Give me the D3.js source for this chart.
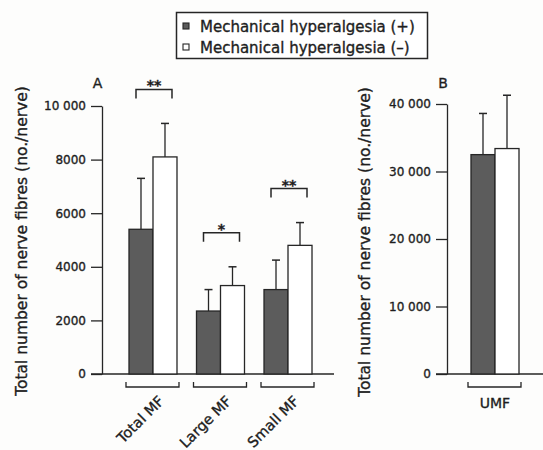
<!DOCTYPE html>
<html>
<head>
<meta charset="utf-8">
<script src="https://cdn.jsdelivr.net/npm/d3@7"></script>
<style>
  body { margin: 0; background: #fdfdfc; }
  svg { display: block; font-family: "DejaVu Sans", sans-serif; }
  svg text { fill: #1e1e1e; stroke: #1e1e1e; stroke-width: 0.35px; }
</style>
</head>
<body>
<svg width="543" height="450"></svg>
<script>
// panel A
var categoriesA = ["Total MF", "Large MF", "Small MF"];
var plusMeanA = [5400, 2350, 3150];
var plusSdA = [1900, 800, 1100];
var minusMeanA = [8100, 3300, 4800];
var minusSdA = [1250, 700, 850];
var sigA = ["**", "*", "**"];
var ticksA = [0, 2000, 4000, 6000, 8000, 10000];

// panel B
var categoriesB = ["UMF"];
var plusMeanB = [32500];
var plusSdB = [6100];
var minusMeanB = [33400];
var minusSdB = [7900];
var ticksB = [0, 10000, 20000, 30000, 40000];

var legendLabels = ["Mechanical hyperalgesia (+)", "Mechanical hyperalgesia (\u2013)"];
var yTitle = "Total number of nerve fibres (no./nerve)";

var ink = "#262626";
var grey = "#5c5c5c";

var svg = d3.select("svg");

function fmt(d) {
  return d >= 10000 ? d3.format(",")(d).replace(/,/g, " ") : String(d);
}

function rows(cats, pm, ps, mm, ms) {
  return cats.map(function(c, i) {
    return {cat: c, bars: [
      {key: "plus", mean: pm[i], sd: ps[i]},
      {key: "minus", mean: mm[i], sd: ms[i]}
    ]};
  });
}

function panel(data, x0, y, ticks, opt) {
  var x1 = d3.scaleBand().domain(["plus", "minus"]).range([0, x0.bandwidth()]);
  var g = svg.append("g");

  // y axis
  var ax = g.append("g")
    .attr("transform", "translate(" + opt.axisX + ",0)")
    .call(d3.axisLeft(y).tickValues(ticks).tickFormat(fmt).tickSize(11).tickSizeOuter(0).tickPadding(5));
  ax.selectAll("path, line").attr("stroke", ink).attr("stroke-width", 1.3);
  ax.selectAll("text").attr("font-size", 12)
    .attr("font-family", "DejaVu Sans, sans-serif");

  // baseline
  g.append("line")
    .attr("x1", opt.axisX - 11).attr("x2", opt.baseEnd)
    .attr("y1", y(0)).attr("y2", y(0))
    .attr("stroke", ink).attr("stroke-width", 1.3);

  var grp = g.selectAll("g.grp").data(data).enter()
    .append("g").classed("grp", true)
    .attr("transform", function(d) { return "translate(" + x0(d.cat) + ",0)"; });

  // error bars (upper only)
  var eb = grp.selectAll("g.err").data(function(d) { return d.bars; }).enter()
    .append("g").classed("err", true);
  eb.append("line")
    .attr("x1", function(d) { return x1(d.key) + x1.bandwidth() / 2; })
    .attr("x2", function(d) { return x1(d.key) + x1.bandwidth() / 2; })
    .attr("y1", function(d) { return y(d.mean); })
    .attr("y2", function(d) { return y(d.mean + d.sd); })
    .attr("stroke", ink).attr("stroke-width", 1.3);
  eb.append("line")
    .attr("x1", function(d) { return x1(d.key) + x1.bandwidth() / 2 - 4; })
    .attr("x2", function(d) { return x1(d.key) + x1.bandwidth() / 2 + 4; })
    .attr("y1", function(d) { return y(d.mean + d.sd); })
    .attr("y2", function(d) { return y(d.mean + d.sd); })
    .attr("stroke", ink).attr("stroke-width", 1.5);

  grp.selectAll("rect").data(function(d) { return d.bars; }).enter()
    .append("rect")
    .attr("x", function(d) { return x1(d.key); })
    .attr("y", function(d) { return y(d.mean); })
    .attr("width", x1.bandwidth())
    .attr("height", function(d) { return y(0) - y(d.mean); })
    .attr("fill", function(d) { return d.key == "plus" ? grey : "#ffffff"; })
    .attr("stroke", ink).attr("stroke-width", 1.3);

  // bracket under each group
  var bw = x0.bandwidth();
  grp.append("path")
    .attr("d", "M-3," + (y(0) + 8) + "V" + (y(0) + 13) + "H" + (bw + 2) + "V" + (y(0) + 8))
    .attr("fill", "none").attr("stroke", ink).attr("stroke-width", 1.3);

  return {g: g, grp: grp, x1: x1};
}

// ---- panel A ----
var yA = d3.scaleLinear().domain([0, 10000]).range([374, 106]);
var xA = d3.scaleBand().domain(categoriesA).range([119.25, 321.75]).paddingInner(0.289).paddingOuter(0.1444);
var dataA = rows(categoriesA, plusMeanA, plusSdA, minusMeanA, minusSdA);
var pA = panel(dataA, xA, yA, ticksA, {axisX: 102, baseEnd: 334});

pA.grp.append("text")
  .attr("transform", function(d) { return "translate(" + (xA.bandwidth() / 2 + 12) + ",402) rotate(-45)"; })
  .attr("text-anchor", "end")
  .attr("font-size", 14.5)
  .text(function(d) { return d.cat; });

// significance brackets
pA.grp.each(function(d, i) {
  var top = d3.max(d.bars, function(b) { return b.mean + b.sd; });
  var by = yA(top) - 34;
  var sel = d3.select(this);
  sel.append("path")
    .attr("d", "M7," + (by + 9) + "V" + by + "H" + (xA.bandwidth() - 5) + "V" + (by + 9))
    .attr("fill", "none").attr("stroke", ink).attr("stroke-width", 1.5);
  sel.append("text")
    .attr("x", (xA.bandwidth() + 2) / 2).attr("y", by + 1)
    .attr("text-anchor", "middle").attr("font-size", 14).attr("font-weight", "bold")
    .text(sigA[i]);
});

svg.append("text").attr("x", 97.5).attr("y", 88).attr("text-anchor", "middle")
  .attr("font-size", 14).text("A");

svg.append("text")
  .attr("transform", "translate(27,241) rotate(-90)")
  .attr("text-anchor", "middle").attr("font-size", 15.5)
  .text(yTitle);

// ---- panel B ----
var yB = d3.scaleLinear().domain([0, 40000]).range([374, 104]);
var xB = d3.scaleBand().domain(categoriesB).range([471, 519]);
var dataB = rows(categoriesB, plusMeanB, plusSdB, minusMeanB, minusSdB);
var pB = panel(dataB, xB, yB, ticksB, {axisX: 447, baseEnd: 543});

pB.grp.append("text")
  .attr("x", xB.bandwidth() / 2).attr("y", 408)
  .attr("text-anchor", "middle").attr("font-size", 14)
  .text(function(d) { return d.cat; });

svg.append("text").attr("x", 443).attr("y", 88).attr("text-anchor", "middle")
  .attr("font-size", 14).text("B");

svg.append("text")
  .attr("transform", "translate(370,242) rotate(-90)")
  .attr("text-anchor", "middle").attr("font-size", 15.5)
  .text(yTitle);

// ---- legend ----
var lg = svg.append("g");
lg.append("rect")
  .attr("x", 176.5).attr("y", 12.5).attr("width", 251).attr("height", 46)
  .attr("fill", "#ffffff").attr("stroke", ink).attr("stroke-width", 1.5);
var li = lg.selectAll("g.item").data(legendLabels).enter()
  .append("g").classed("item", true)
  .attr("transform", function(d, i) { return "translate(0," + (26 + i * 21) + ")"; });
li.append("rect")
  .attr("x", 183).attr("y", -3).attr("width", 6).attr("height", 6)
  .attr("fill", function(d, i) { return i == 0 ? grey : "#ffffff"; })
  .attr("stroke", ink).attr("stroke-width", 1.1);
li.append("text")
  .attr("x", 200).attr("y", 5.5)
  .attr("font-size", 15)
  .text(function(d) { return d; });
</script>
</body>
</html>
